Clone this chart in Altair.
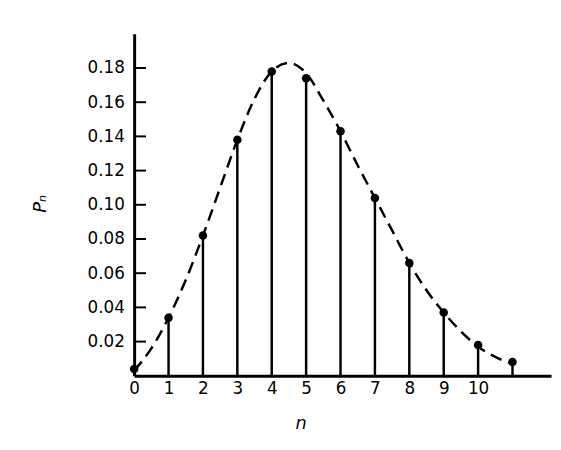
import altair as alt
import pandas as pd

# Stem values P_n for n = 0..11
n_vals = [0, 1, 2, 3, 4, 5, 6, 7, 8, 9, 10, 11]
p_vals = [0.004, 0.034, 0.082, 0.138, 0.178, 0.174, 0.143, 0.104, 0.066, 0.037, 0.018, 0.008]

# Dashed envelope curve
curve_x = [0, 0.5, 1, 1.5, 2, 2.5, 3, 3.5, 4, 4.5, 5, 5.5, 6, 6.5, 7, 7.5, 8, 8.5, 9, 9.5, 10, 10.5, 11]
curve_y = [0.003, 0.016, 0.034, 0.056, 0.082, 0.110, 0.138, 0.162, 0.178, 0.183, 0.177, 0.161,
           0.143, 0.123, 0.104, 0.085, 0.066, 0.050, 0.037, 0.026, 0.017, 0.011, 0.007]

x_ticks = [0, 1, 2, 3, 4, 5, 6, 7, 8, 9, 10]
y_ticks = [0.02, 0.04, 0.06, 0.08, 0.10, 0.12, 0.14, 0.16, 0.18]

stems = pd.DataFrame({"n": n_vals, "p": p_vals, "zero": [0.0] * len(n_vals)})
curve = pd.DataFrame({"x": curve_x, "y": curve_y})
ticks = pd.DataFrame({"t": y_ticks})

FONT = "DejaVu Sans"
xs = alt.Scale(domain=[0, 12.12], nice=False, zero=False)
ys = alt.Scale(domain=[0, 0.2], nice=False)

xaxis = alt.Axis(values=x_ticks, format="d", title="n", titleFontStyle="italic",
                 titleFont=FONT, titleFontSize=18, titleFontWeight="normal",
                 labelFont=FONT, labelFontSize=17, labelPadding=5, ticks=False,
                 labelFlush=False, labelOverlap=False,
                 domainWidth=3, domainColor="black", labelColor="black", titleColor="black",
                 grid=False, titleY=40, titleX=169)
yaxis = alt.Axis(values=y_ticks, format=".2f", title="Pₙ", titleFontStyle="italic",
                 titleFont=FONT, titleFontSize=18, titleFontWeight="normal", titleAngle=-90,
                 labelFont=FONT, labelFontSize=17, labelPadding=10, ticks=False,
                 labelFlush=False, labelOverlap=False,
                 domainWidth=3, domainColor="black", labelColor="black", titleColor="black",
                 grid=False, titleX=-86, titleY=172)

rules = alt.Chart(stems).mark_rule(color="black", strokeWidth=2.5).encode(
    x=alt.X("n:Q", scale=xs, axis=xaxis),
    y=alt.Y("zero:Q", scale=ys, axis=yaxis),
    y2="p:Q",
)
dots = alt.Chart(stems).mark_circle(color="black", size=75, opacity=1).encode(
    x=alt.X("n:Q", scale=xs), y=alt.Y("p:Q", scale=ys)
)
line = alt.Chart(curve).mark_line(color="black", strokeWidth=2.5, strokeDash=[12, 7],
                                  interpolate="monotone").encode(
    x=alt.X("x:Q", scale=xs), y=alt.Y("y:Q", scale=ys)
)
tickmarks = alt.Chart(ticks).mark_rule(color="black", strokeWidth=2).encode(
    x=alt.value(0), x2=alt.value(12), y=alt.Y("t:Q", scale=ys)
)

chart = alt.layer(rules, line, dots, tickmarks).properties(
    width=423, height=347,
    autosize=alt.AutoSizeParams(type="none"),
    padding={"left": 128, "top": 23, "right": 2, "bottom": 64},
).configure_view(stroke=None)

chart.save("out.html", embed_options={"renderer": "svg", "actions": False})
